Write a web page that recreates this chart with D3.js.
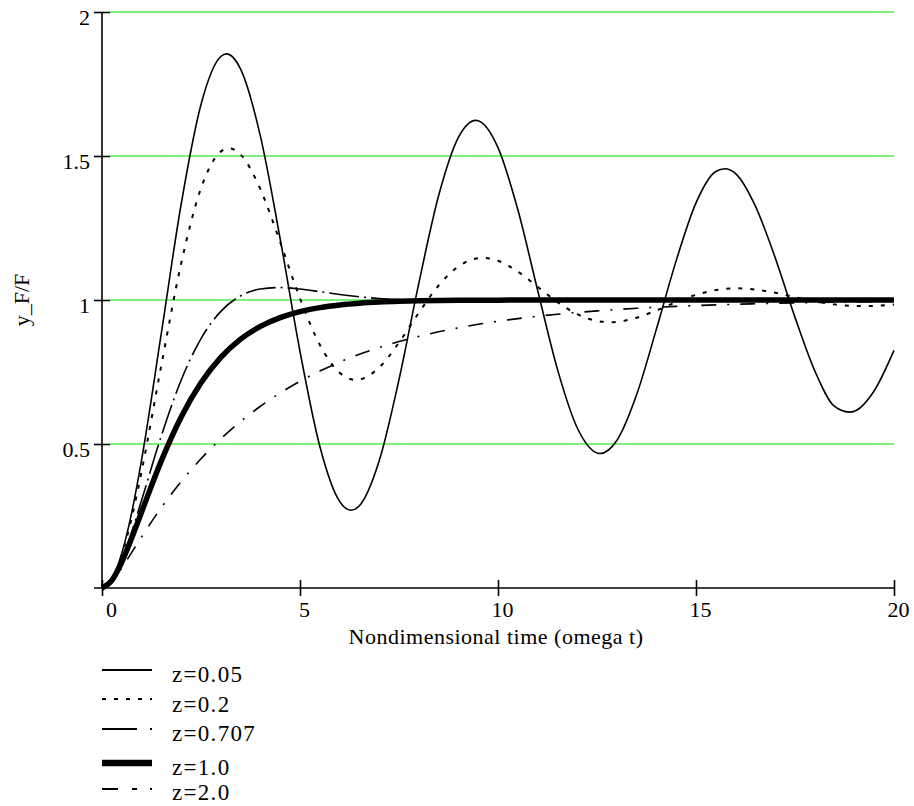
<!DOCTYPE html>
<html>
<head>
<meta charset="utf-8">
<script src="https://cdn.jsdelivr.net/npm/d3@7"></script>
<style>
  html, body { margin: 0; padding: 0; background: #fff; }
  svg { display: block; }
  text { font-family: "Liberation Serif", "Times New Roman", serif; fill: #000; }
</style>
</head>
<body>
<svg id="chart" width="914" height="806"></svg>
<script>
// Step response of a second-order system for several damping ratios
const seriesNames = ["z=0.05", "z=0.2", "z=0.707", "z=1.0", "z=2.0"];

const tGrid = [0, 0.25, 0.5, 0.75, 1, 1.5, 2, 2.5, 3, 3.5, 4, 4.5, 5, 5.5, 6, 6.5, 7, 7.5, 8, 8.5, 9, 9.5,
  10, 10.5, 11, 11.5, 12, 12.5, 13, 13.5, 14, 14.5, 15, 15.5, 16, 16.5, 17, 17.5, 18, 18.5, 19, 19.5, 20];

const tZ005 = [0, 0.25, 0.5, 0.75, 1, 1.5, 2, 2.5, 3, 3.15, 3.5, 4, 4.5, 5, 5.5, 6, 6.29, 6.5, 7, 7.5, 8, 8.5, 9,
  9.44, 9.5, 10, 10.5, 11, 11.5, 12, 12.5, 12.58, 13, 13.5, 14, 14.5, 15, 15.5, 15.73, 16, 16.5, 17,
  17.5, 18, 18.5, 18.87, 19, 19.5, 20];
const yZ005 = [0, 0.0308, 0.1204, 0.2618, 0.4450, 0.8863, 1.3333, 1.6788, 1.8454, 1.8545, 1.8020, 1.5691, 1.2118,
  0.8212, 0.4924, 0.3009, 0.2699, 0.2856, 0.4417, 0.7235, 1.0577, 1.3617, 1.5645, 1.6238, 1.6227,
  1.5293, 1.3140, 1.0343, 0.7600, 0.5564, 0.4690, 0.4669, 0.5121, 0.6710, 0.8989, 1.1367, 1.3374,
  1.4462, 1.4555, 1.4389, 1.3259, 1.1468, 0.9397, 0.7540, 0.6303, 0.6108, 0.6138, 0.6848, 0.8249];

const tZ02 = [0, 0.25, 0.5, 0.75, 1, 1.5, 2, 2.5, 3, 3.21, 3.5, 4, 4.5, 5, 5.5, 6, 6.41, 6.5, 7, 7.5, 8, 8.5, 9,
  9.5, 9.62, 10, 10.5, 11, 11.5, 12, 12.5, 12.83, 13, 13.5, 14, 14.5, 15, 15.5, 16, 16.03, 16.5, 17,
  17.5, 18, 18.5, 19, 19.24, 19.5, 20];
const yZ02 = [0, 0.0301, 0.1147, 0.2436, 0.4050, 0.7748, 1.1275, 1.3880, 1.5151, 1.5266, 1.5049, 1.3846, 1.2006,
  1.0055, 0.8446, 0.7473, 0.7227, 0.7237, 0.7657, 0.8521, 0.9556, 1.0503, 1.1166, 1.1450, 1.1460,
  1.1361, 1.0986, 1.0460, 0.9928, 0.9508, 0.9273, 0.9231, 0.9242, 0.9385, 0.9639, 0.9926, 1.0178,
  1.0345, 1.0405, 1.0405, 1.0364, 1.0250, 1.0101, 0.9957, 0.9848, 0.9793, 0.9787, 0.9794, 0.9840];

const yZ0707 = [0, 0.0277, 0.0981, 0.1948, 0.3049, 0.5288, 0.7220, 0.8661, 0.9606, 1.0142, 1.0381, 1.0432, 1.0381,
  1.0289, 1.0193, 1.0112, 1.0052, 1.0014, 0.9992, 0.9983, 0.9981, 0.9984, 0.9988, 0.9992, 0.9996,
  0.9998, 1.0000, 1.0000, 1.0000, 1.0000, 1.0000, 1.0000, 1.0000, 1.0000, 1.0000, 1.0000, 1.0000,
  1.0000, 1.0000, 1.0000, 1.0000, 1.0000, 1.0000];

const yZ1 = [0, 0.0265, 0.0902, 0.1734, 0.2642, 0.4422, 0.5940, 0.7127, 0.8009, 0.8641, 0.9084, 0.9389, 0.9596,
  0.9734, 0.9826, 0.9887, 0.9927, 0.9953, 0.9970, 0.9981, 0.9988, 0.9992, 0.9995, 0.9997, 0.9998,
  0.9999, 0.9999, 1.0000, 1.0000, 1.0000, 1.0000, 1.0000, 1.0000, 1.0000, 1.0000, 1.0000, 1.0000,
  1.0000, 1.0000, 1.0000, 1.0000, 1.0000, 1.0000];

const yZ2 = [0, 0.0229, 0.0697, 0.1235, 0.1777, 0.2795, 0.3697, 0.4486, 0.5178, 0.5782, 0.6311, 0.6774, 0.7178,
  0.7532, 0.7842, 0.8112, 0.8349, 0.8556, 0.8737, 0.8895, 0.9034, 0.9155, 0.9261, 0.9354, 0.9435,
  0.9506, 0.9568, 0.9622, 0.9669, 0.9711, 0.9747, 0.9779, 0.9806, 0.9831, 0.9852, 0.9870, 0.9887,
  0.9901, 0.9913, 0.9924, 0.9934, 0.9942, 0.9949];

const xTickValues = [0, 5, 10, 15, 20];
const yTickValues = [0.5, 1, 1.5, 2];
const yTickLabels = ["0.5", "1", "1.5", "2"];
const xTitle = "Nondimensional time (omega t)";
const yTitle = "y_F/F";

// line styles for each damping ratio
const styles = [
  { width: 1.6, dash: null },
  { width: 2, dash: "4,8" },
  { width: 1.6, dash: "30,5,2,5" },
  { width: 5.5, dash: null },
  { width: 1.6, dash: "15,11,2,11" }
];

const series = [
  { t: tZ005, y: yZ005 },
  { t: tZ02, y: yZ02 },
  { t: tGrid, y: yZ0707 },
  { t: tGrid, y: yZ1 },
  { t: tGrid, y: yZ2 }
];

const svg = d3.select("#chart");
const x = d3.scaleLinear().domain([0, 20]).range([102, 894]);
const y = d3.scaleLinear().domain([0, 2]).range([588, 12]);

// horizontal grid
svg.append("g").selectAll("line").data(yTickValues).join("line")
  .attr("x1", x(0) + 8).attr("x2", x(20))
  .attr("y1", d => y(d)).attr("y2", d => y(d))
  .attr("stroke", "#7cf07c").attr("stroke-width", 2);

// axes
const xAxis = d3.axisBottom(x).tickValues(xTickValues).tickSize(0).tickFormat(d3.format("d"));
const gx = svg.append("g").attr("transform", `translate(0,${y(0)})`).call(xAxis);
gx.select(".domain").remove();
gx.selectAll(".tick text")
  .attr("y", 29).attr("dy", null).attr("dx", d => (d === 0 ? 9 : 4))
  .style("font-family", "'Liberation Serif', serif").style("font-size", "22px");
gx.selectAll(".tick line").attr("y1", -8).attr("y2", 8).attr("stroke", "#000").attr("stroke-width", 1.6);

const yAxis = d3.axisLeft(y).tickValues(yTickValues).tickSize(0)
  .tickFormat((d, i) => yTickLabels[i]);
const gy = svg.append("g").attr("transform", `translate(${x(0)},0)`).call(yAxis);
gy.select(".domain").remove();
gy.selectAll(".tick text")
  .attr("x", -12).attr("dy", null).attr("y", 12)
  .style("font-family", "'Liberation Serif', serif").style("font-size", "22px");
gy.selectAll(".tick line").attr("x1", -8).attr("x2", 8).attr("stroke", "#000").attr("stroke-width", 1.6);

svg.append("line")
  .attr("x1", x(0) - 8).attr("x2", x(20)).attr("y1", y(0)).attr("y2", y(0))
  .attr("stroke", "#000").attr("stroke-width", 1.6);
svg.append("line")
  .attr("x1", x(0)).attr("x2", x(0)).attr("y1", y(0)).attr("y2", y(2))
  .attr("stroke", "#000").attr("stroke-width", 1.6);

// curves
const line = d3.line().curve(d3.curveMonotoneX);
series.forEach((s, i) => {
  const pts = s.t.map((t, j) => [x(t), y(s.y[j])]);
  svg.append("path")
    .attr("d", line(pts))
    .attr("fill", "none")
    .attr("stroke", "#000")
    .attr("stroke-width", styles[i].width)
    .attr("stroke-dasharray", styles[i].dash);
});

// axis titles
svg.append("text")
  .attr("x", 496).attr("y", 644)
  .attr("text-anchor", "middle")
  .style("font-size", "22px").style("letter-spacing", "0.5px")
  .text(xTitle);
svg.append("text")
  .attr("transform", "translate(29,300) rotate(-90)")
  .attr("text-anchor", "middle")
  .style("font-size", "22px")
  .text(yTitle);

// legend
const legendRows = [670, 699, 729, 763, 789];
const legendBase = [682, 712, 741, 775, 800];
const legend = svg.append("g");
seriesNames.forEach((name, i) => {
  legend.append("line")
    .attr("x1", 102).attr("x2", 152)
    .attr("y1", legendRows[i]).attr("y2", legendRows[i])
    .attr("stroke", "#000")
    .attr("stroke-width", i === 3 ? 6.5 : 2)
    .attr("stroke-dasharray", i === 2 ? "35,13,2,10" : i === 4 ? "16,14,5,13,2,10" : styles[i].dash);
  legend.append("text")
    .attr("x", 172).attr("y", legendBase[i])
    .style("font-size", "23px").style("letter-spacing", "1.3px")
    .text(name);
});
</script>
</body>
</html>
